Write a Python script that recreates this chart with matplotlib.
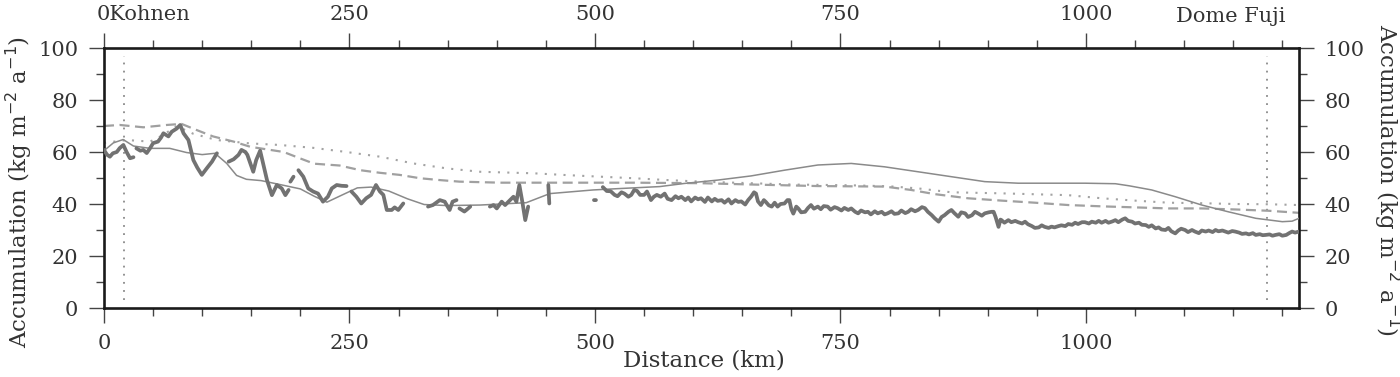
import numpy as np
import matplotlib
matplotlib.use("Agg")
import matplotlib.pyplot as plt
from matplotlib.ticker import MultipleLocator, FuncFormatter

nan = np.nan

# ---- data (distance km, accumulation kg m-2 a-1) ----
radar_x = [0, 3, 6, 9, 13, 16, 19.7, 23, 26.5, 30, nan,
           33, 37, 40, 43.5, 47, 50, 55, 58, 60.5, 65.6, 69, 74, 77.6, 81, 86, 91, 95, 99.6, 104.8, 110, 115, nan,
           127, 132, 137, 140, 144, 146, 149, 152, 155, 159, 162, 166, 171, 176, 181, 184.7, 188, nan,
           189.8, 193, nan,
           198, 203, 208, 213, 218, 223, 228, 232, 237, 242, 247, nan,
           252, 257, 262, 267, 272, 277, 281, 284.5, 288, 293, 296, 299.7, 304.8, nan,
           330, 335, 342, 347, 352, 355, 359, nan,
           362, 367, 369, 373, nan,
           393, 396.7, 400, 405, 408.5, 413.5, 417, 420, 423, 426, 429, 432, nan,
           452.5, 453.5, nan,
           499, 501, nan,
           508, 512, 516, 520, 523, 527, 530, 534, 537, 540, 543, 546, 550, 553, 557, 560, 563, 567, 571, 574,
           578, 582, 585, 588, 592, 595, 598, 602, 605, 608, 612, 615, 619, 622, 625, 629, 632, 636, 639, 643,
           646, 649, 653, 656, 659, 662, 664, 666, 669, 672, 674, 677, 680, 683, 686, 689, 693, 696, 698, 700,
           702, 705, 707, 710, 714, 717, 720, 723, 727, 730, 733, 737, 740, 744, 747, 751, 754, 758, 761, 765,
           768, 771, 775, 778, 781, 785, 788, 792, 795, 798, 802, 805, 809, 812, 816, 819, 822, 826, 829, 833,
           836, 839, 843, 846, 850, 853, 856, 860, 863, 866, 870, 873, 877, 880, 884, 887, 890, 894, 897, 901,
           904, 906, 908, 911, 913, 914, 917, 921, 924, 928, 931, 935, 938, 941, 945, 948, 952, 955, 958, 962,
           965, 968, 972, 975, 979, 982, 986, 989, 992, 996, 999, 1003, 1006, 1010, 1013, 1016, 1020, 1023, 1027, 1030,
           1033, 1037, 1040, 1043, 1047, 1050, 1054, 1057, 1061, 1064, 1067, 1071, 1074, 1077, 1081, 1084, 1087, 1091, 1094, 1097,
           1101, 1104, 1108, 1111, 1115, 1118, 1122, 1125, 1129, 1132, 1135, 1139, 1142, 1145, 1149, 1152, 1156, 1159, 1163, 1166,
           1170, 1173, 1177, 1180, 1183, 1187, 1190, 1193, 1197, 1200, 1204, 1207, 1210, 1213, 1217]
radar_y = [60.8, 59, 58.2, 59.5, 60, 61.5, 62.7, 60, 57.6, 58, nan,
           61.4, 60.5, 60.8, 59.6, 61.5, 63.4, 64, 65.5, 67.2, 66, 67.8, 69, 70.4, 67.2, 64.6, 56.9, 54, 51.2, 53.8, 56.3, 59.5, nan,
           56.3, 57.2, 58.9, 60.8, 60, 58.9, 55.6, 52.4, 56.9, 60.5, 55.6, 49.2, 43.4, 47.3, 46, 43.4, 45.4, nan,
           48.6, 50.5, nan,
           53, 50.5, 46, 44.8, 44, 40.9, 42.8, 46, 47.3, 47, 46.9, nan,
           44.8, 42.8, 40.2, 42.2, 43.5, 47.3, 44.8, 43.5, 37.7, 37.7, 38.7, 37.7, 40.2, nan,
           39, 39.6, 41.5, 40.9, 37.7, 40.9, 41.5, nan,
           38.3, 37.1, 37.7, 39, nan,
           39, 39.6, 38.3, 40.9, 39.6, 41.5, 42.8, 40.9, 47.3, 40.9, 33.8, 39, nan,
           47.3, 40.2, nan,
           41.5, 41.5, nan,
           46.5, 45, 44.9, 43.5, 43, 44.5, 44, 42.8, 43.5, 45.4, 45, 43.5, 43.5, 44.8, 41.5, 42.8, 43.5, 42.8, 44, 42,
           41.5, 43, 42.2, 42.8, 41.5, 42.5, 41, 42.5, 41.8, 42.2, 40.8, 42.5, 41, 42, 41.2, 41.5, 40.5, 41.8, 40.2, 41.5,
           40.8, 41, 39.8, 41.5, 42.8, 44.5, 44, 41, 39.6, 41.5, 40.8, 39.5, 39, 40.5, 39, 40, 40.2, 41.5, 41.5, 38,
           36.3, 39, 38.3, 36.8, 37, 38.5, 39.6, 38.2, 39, 38, 39.2, 39, 37.8, 38.8, 38.4, 37.5, 38.5, 37.7, 38.3, 37,
           36.4, 37.5, 36.8, 37, 36, 37.2, 36.4, 37, 36, 36.4, 37.2, 36.2, 36.4, 37.5, 36.5, 37, 38, 37.2, 37.7, 38.8,
           38.4, 37, 35.7, 34.5, 33.2, 35, 35.7, 37, 37.7, 36.5, 35.1, 36.8, 36.4, 35, 35.7, 37, 36.4, 35.5, 36.4, 36.8,
           37, 37, 35, 31.2, 34, 33.8, 32.8, 33.8, 33, 33.5, 33, 32.5, 33.2, 32.2, 31.5, 30.8, 31, 31.8, 31.2, 30.8,
           31.3, 31, 31.5, 31.8, 31.5, 32.3, 32, 32.8, 32.3, 33, 33, 32.5, 33.2, 32.8, 33.5, 32.8, 33.5, 32.8, 33.3, 33.8,
           33, 34, 34.5, 33.5, 33.2, 32.5, 32.8, 32, 31.9, 31.2, 31.8, 30.6, 31, 30.2, 30, 30.8, 29.5, 28.7, 29.8, 30.5,
           30, 29.2, 30, 29.4, 28.8, 29.8, 29.4, 29.8, 29.2, 30, 29.5, 29.8, 29.4, 29, 29.6, 29.4, 29, 28.5, 28.7, 28.3,
           28.8, 28.1, 28.4, 28, 28.1, 28.3, 27.8, 28.1, 28.4, 27.8, 28.1, 28.8, 29.4, 29, 29.4]

model_x = [0, 9.5, 19.5, 30, 47, 67, 84, 100, 113, 125, 135, 145, 160, 179, 200, 214, 227, 241, 258, 272,
           290, 309, 326, 349, 383, 404, 430, 454, 498, 523, 566, 591, 625, 659, 693, 727, 761, 795, 829, 863,
           897, 931, 965, 999, 1030, 1044, 1067, 1091, 1118, 1145, 1173, 1200, 1210, 1217]
model_y = [60.5, 63.5, 64.8, 62.3, 61.4, 61.4, 59.8, 59, 59.5, 55.6, 51, 49.5, 49, 47.5, 45.8, 43, 40.7, 43.2, 46.2, 46.5,
           45, 42, 39.8, 39.4, 39.6, 40, 40.5, 44, 45.4, 45.9, 46.7, 47.9, 49.2, 50.8, 53, 55, 55.6, 54.3, 52.4, 50.5,
           48.6, 48, 48, 48, 47.8, 47, 45.4, 42.8, 39.6, 37, 34.5, 33.2, 33.4, 34.5]

dashed_x = [0, 16, 40, 64, 79, 94, 111, 132, 149, 166, 183, 200, 214, 240, 261, 281, 301, 322, 342, 362,
            404, 472, 540, 608, 659, 727, 795, 822, 846, 880, 914, 948, 982, 1016, 1050, 1084, 1118, 1152, 1186, 1217]
dashed_y = [70, 70.4, 69.5, 70.4, 70.8, 68.5, 66, 64, 62, 61, 60, 57.5, 55.5, 54.8, 53, 52, 51.2, 49.9, 49.2, 48.6,
            48.2, 48.2, 48.2, 48, 47.5, 46.9, 46.7, 45.4, 43.8, 42.2, 41.3, 40.5, 39.6, 39.1, 38.7, 38.3, 38.3, 37.9, 37.4, 36.6]

dotted_x = [0, 23, 47, 60, 74, 91, 115, 149, 179, 213, 247, 281, 315, 349, 383, 438, 472, 506, 540, 574,
            608, 642, 700, 760, 800, 829, 863, 914, 982, 1016, 1050, 1084, 1118, 1152, 1186, 1217]
dotted_y = [63.5, 64.6, 64, 66.5, 70, 67, 64.6, 63.3, 62.7, 61.6, 60, 58.2, 55.6, 53.7, 52.4, 51.8, 51.1, 50.5, 49.9, 49.2,
            48.6, 48.2, 47.5, 47.2, 46.8, 46, 44.5, 44.1, 43.4, 42.2, 41.3, 40.5, 40.3, 40, 39.9, 39.6]

site_x = [20, 1184]          # Kohnen and Dome Fuji positions
site_span = [3, 97]

x_major = [0, 250, 500, 750, 1000]
y_major = [0, 20, 40, 60, 80, 100]

# ---- figure ----
plt.rcParams['font.family'] = ['DejaVu Serif']
txt = '#333333'
fs = 15
lfs = 16.5

fig = plt.figure(figsize=(14, 3.77), dpi=100)
ax = fig.add_axes([104/1400, 1-308/377, (1299-104)/1400, (308-48)/377])

ax.plot(dotted_x, dotted_y, color='#a3a3a3', lw=1.5, dashes=(1, 3.5), zorder=2)
ax.plot(dashed_x, dashed_y, color='#a0a0a0', lw=1.6, dashes=(4.5, 2.5), zorder=2)
ax.plot(model_x, model_y, color='#8a8a8a', lw=1.1, zorder=3)
ax.plot(radar_x, radar_y, color='#727272', lw=2.7, zorder=4, solid_capstyle='round')
for sx in site_x:
    ax.plot([sx, sx], site_span, color='#8a8a8a', lw=1.3, dashes=(1, 3.5), zorder=1)

ax.set_xlim(0, 1217)
ax.set_ylim(0, 100)
ax.set_xticks(x_major)
ax.xaxis.set_minor_locator(MultipleLocator(50))
ax.set_yticks(y_major)
ax.yaxis.set_minor_locator(MultipleLocator(10))

for s in ax.spines.values():
    s.set_linewidth(1.9)
    s.set_color('#1a1a1a')

ax.tick_params(which='major', direction='out', length=10.5, width=1.0, color='#444444',
               labelsize=fs, labelcolor=txt, pad=8,
               top=True, right=True, labeltop=False, labelright=True)
ax.tick_params(which='minor', direction='out', length=6, width=1.0, color='#444444',
               top=True, right=True)
ax.xaxis.set_major_formatter(FuncFormatter(lambda v, p: f"{int(v)}"))

# top labels (the "0" is replaced by "0Kohnen")
ax2 = ax.secondary_xaxis('top')
ax2.set_xticks(x_major)
ax2.set_xticklabels([''] + [str(v) for v in x_major[1:]])
ax2.tick_params(length=0, labelsize=fs, labelcolor=txt, pad=17.5)
ax2.spines['top'].set_visible(False)

ax.annotate('0Kohnen', xy=(0, 1), xycoords=('data', 'axes fraction'),
            xytext=(-5, 17.5), textcoords='offset points', ha='left', va='bottom',
            fontsize=fs, color=txt)
fig.text(1285/1400, 1-16/377, 'Dome Fuji', ha='right', va='center', fontsize=fs, color=txt)

fig.text(704/1400, 1-361/377, 'Distance (km)', ha='center', va='center', fontsize=lfs, color=txt)
ylab = 'Accumulation (kg m$^{-2}$ a$^{-1}$)'
fig.text(19/1400, 1-192/377, ylab, rotation=90, ha='center', va='center', fontsize=lfs, color=txt)
fig.text(1387/1400, 1-180/377, ylab, rotation=270, ha='center', va='center', fontsize=lfs, color=txt)

fig.savefig('out.png', dpi=100)
